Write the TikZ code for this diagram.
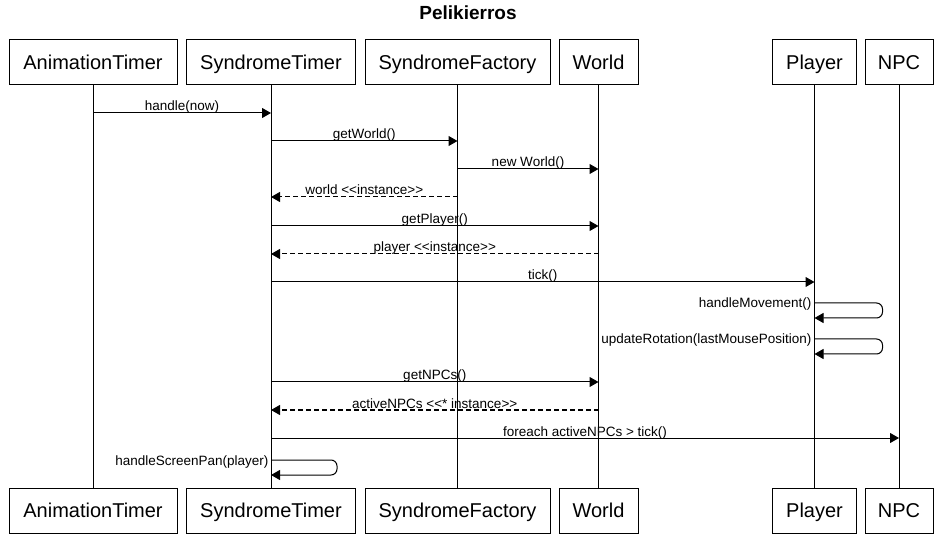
\documentclass[tikz,border=0pt]{standalone}
\usepackage{fontspec}
\setmainfont{Liberation Sans}
\usetikzlibrary{arrows.meta}

% guillemets would be made from << and >> otherwise
\newcommand\dlt{<\kern0pt<}
\newcommand\dgt{>\kern0pt>}

\begin{document}
\begin{tikzpicture}[x=1pt, y=-1pt, line width=1pt,
  actor/.style={draw, minimum height=45pt, inner sep=0pt, text height=15pt, text depth=1pt,
    font=\fontsize{20}{23}\selectfont},
  msg/.style={-{Triangle[width=10pt,length=9pt]}},
  reply/.style={msg, dash pattern=on 5pt off 3pt},
  lbl/.style={font=\fontsize{13.5}{15}\selectfont, anchor=base, inner sep=0pt, yshift=2pt},
  selflbl/.style={font=\fontsize{13.5}{15}\selectfont, anchor=base east, inner sep=0pt}]
  % page
  \useasboundingbox (0,0) rectangle (937,534);
  \node[font=\bfseries\fontsize{19}{22}\selectfont] (title) at (468,13) {Pelikierros};
  % heads
  \node[actor, minimum width=168pt] (at)  at (93,62.5)  {AnimationTimer};
  \node[actor, minimum width=169pt] (st)  at (271,62.5) {SyndromeTimer};
  \node[actor, minimum width=185pt] (sf)  at (457.5,62.5) {SyndromeFactory};
  \node[actor, minimum width=79pt]  (w)   at (598.5,62.5) {World};
  \node[actor, minimum width=84pt]  (p)   at (814.5,62.5) {Player};
  \node[actor, minimum width=68pt]  (npc) at (899,62.5) {NPC};
  % feet
  \node[actor, minimum width=168pt] (atb)  at (93,510.5)  {AnimationTimer};
  \node[actor, minimum width=169pt] (stb)  at (271,510.5) {SyndromeTimer};
  \node[actor, minimum width=185pt] (sfb)  at (457.5,510.5) {SyndromeFactory};
  \node[actor, minimum width=79pt]  (wb)   at (598.5,510.5) {World};
  \node[actor, minimum width=84pt]  (pb)   at (814.5,510.5) {Player};
  \node[actor, minimum width=68pt]  (npcb) at (899,510.5) {NPC};
  % lifelines
  \foreach \n in {at,st,sf,w,p,npc}
    \draw (\n.south) -- (\n b.north);
  % calls and replies
  \draw[msg] (at.south |- 0,113) -- node[lbl] {handle(now)} (st.south |- 0,113);
  \draw[msg] (st.south |- 0,141) -- node[lbl] {getWorld()} (sf.south |- 0,141);
  \draw[msg] (sf.south |- 0,169) -- node[lbl] {new World()} (w.south |- 0,169);
  \draw[reply] (sf.south |- 0,197) -- node[lbl] {world \dlt instance\dgt} (st.south |- 0,197);
  \draw[msg] (st.south |- 0,226) -- node[lbl] {getPlayer()} (w.south |- 0,226);
  \draw[reply] (w.south |- 0,254) -- node[lbl] {player \dlt instance\dgt} (st.south |- 0,254);
  \draw[msg] (st.south |- 0,282) -- node[lbl] {tick()} (p.south |- 0,282);
  % player calls itself
  \draw[msg, rounded corners=6pt] (p.south |- 0,303) -- ++(68,0) -- ++(0,15) -- (p.south |- 0,318);
  \node[selflbl] (hm) at (812,308) {handleMovement()};
  \draw[msg, rounded corners=6pt] (p.south |- 0,339) -- ++(68,0) -- ++(0,15) -- (p.south |- 0,354);
  \node[selflbl] (ur) at (812,344) {updateRotation(lastMousePosition)};
  \draw[msg] (st.south |- 0,382) -- node[lbl] {getNPCs()} (w.south |- 0,382);
  \draw[reply] (w.south |- 0,410) -- node[lbl] {activeNPCs \dlt* instance\dgt} (st.south |- 0,410);
  \draw[msg] (st.south |- 0,438) -- node[lbl] {foreach activeNPCs > tick()} (npc.south |- 0,438);
  % timer pans the screen
  \draw[msg, rounded corners=6pt] (st.south |- 0,460) -- ++(66,0) -- ++(0,15) -- (st.south |- 0,475);
  \node[selflbl] (sp) at (269,465) {handleScreenPan(player)};
\end{tikzpicture}
\end{document}
